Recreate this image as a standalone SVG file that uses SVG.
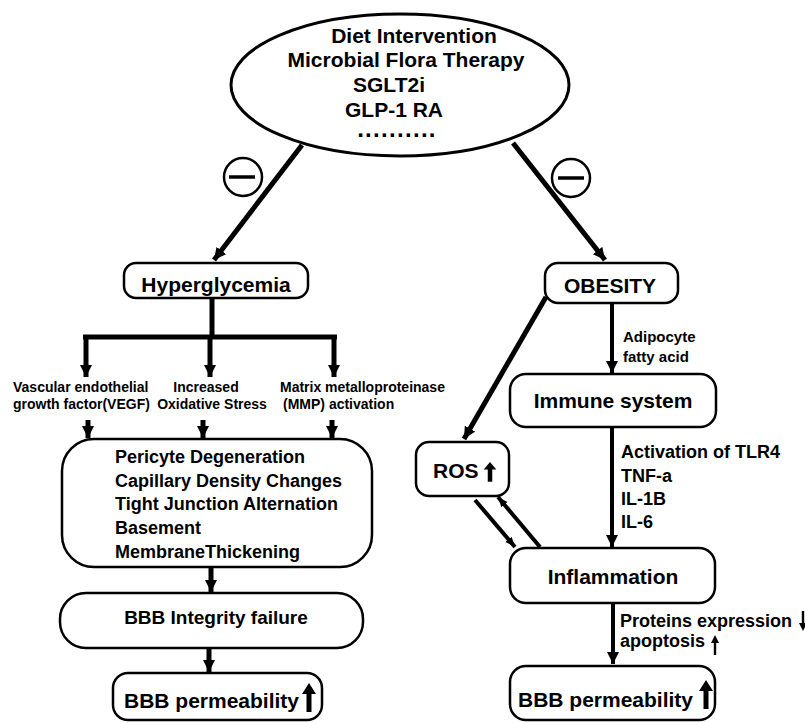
<svg xmlns="http://www.w3.org/2000/svg" width="805" height="723" viewBox="0 0 805 723">
<defs>
<style>
text{font-family:"Liberation Sans",Arial,sans-serif;font-weight:bold;fill:#000}
.box{fill:#fff;stroke:#000;stroke-width:2.5}
.c{stroke:#000;fill:none;stroke-linecap:butt}
.w5{stroke-width:5}
.w4{stroke-width:4}
.w3{stroke-width:3.5}
.mid{text-anchor:middle}
</style>
<marker id="ah" markerUnits="userSpaceOnUse" markerWidth="12" markerHeight="12" refX="10" refY="5" orient="auto" viewBox="0 0 10 10">
<path d="M0,0 L10,5 L0,10 Z" fill="#000"/>
</marker>
<marker id="ahs" markerUnits="userSpaceOnUse" markerWidth="10" markerHeight="10" refX="10" refY="5" orient="auto" viewBox="0 0 10 10">
<path d="M0,1 L10,5 L0,9 Z" fill="#000"/>
</marker>
<path id="up" d="M0,0 L7,11 L2.5,11 L2.5,29 L-2.5,29 L-2.5,11 L-7,11 Z" fill="#000"/>
<path id="thin" d="M0,0 L4,8 L1.2,8 L1.2,20 L-1.2,20 L-1.2,8 L-4,8 Z" fill="#000"/>
</defs>

<g id="connectors">
<line class="c w5" x1="302" y1="145" x2="214" y2="260" marker-end="url(#ah)"/>
<line class="c w5" x1="513" y1="143" x2="605" y2="260" marker-end="url(#ah)"/>
<line class="c w5" x1="212" y1="298" x2="212" y2="337"/>
<line class="c w5" x1="83" y1="337" x2="337" y2="337"/>
<line class="c w5" x1="86" y1="335" x2="86" y2="377" marker-end="url(#ah)"/>
<line class="c w5" x1="210" y1="335" x2="210" y2="377" marker-end="url(#ah)"/>
<line class="c w5" x1="334" y1="335" x2="334" y2="377" marker-end="url(#ah)"/>
<line class="c w5" x1="88" y1="420" x2="88" y2="438" marker-end="url(#ah)"/>
<line class="c w5" x1="203" y1="420" x2="203" y2="438" marker-end="url(#ah)"/>
<line class="c w5" x1="332" y1="420" x2="332" y2="438" marker-end="url(#ah)"/>
<line class="c w5" x1="211" y1="567" x2="211" y2="592" marker-end="url(#ah)"/>
<line class="c w5" x1="209" y1="648" x2="209" y2="672" marker-end="url(#ah)"/>
<line class="c w4" x1="612" y1="303" x2="612" y2="373" marker-end="url(#ah)"/>
<line class="c w5" x1="546" y1="297" x2="464" y2="439" marker-end="url(#ah)"/>
<line class="c w4" x1="612" y1="427" x2="612" y2="547" marker-end="url(#ah)"/>
<line class="c w4" x1="475" y1="500" x2="515" y2="547" marker-end="url(#ahs)"/>
<line class="c w4" x1="540" y1="547" x2="498" y2="497" marker-end="url(#ahs)"/>
<line class="c w4" x1="613" y1="603" x2="613" y2="664" marker-end="url(#ah)"/>
</g>

<g id="inhibit-left">
<circle cx="243" cy="177" r="19" fill="#fff" stroke="#000" stroke-width="2.5"/>
<line x1="229" y1="177" x2="255" y2="177" stroke="#000" stroke-width="3.5"/>
</g>
<g id="inhibit-right">
<circle cx="571" cy="178" r="19" fill="#fff" stroke="#000" stroke-width="2.5"/>
<line x1="558" y1="178" x2="584" y2="178" stroke="#000" stroke-width="3.5"/>
</g>

<g id="therapies">
<ellipse cx="400" cy="85" rx="169" ry="71" fill="#fff" stroke="#000" stroke-width="3"/>
<text x="414" y="43" font-size="21" class="mid">Diet Intervention</text>
<text x="406" y="67" font-size="21" class="mid">Microbial Flora Therapy</text>
<text x="389" y="92" font-size="21" class="mid">SGLT2i</text>
<text x="394" y="117" font-size="21" class="mid">GLP-1 RA</text>
<text x="397" y="137" font-size="24" class="mid" letter-spacing="1.3">..........</text>
</g>

<g id="hyperglycemia">
<rect class="box" x="124" y="263" width="184" height="35" rx="12"/>
<text x="216" y="292" font-size="21" class="mid">Hyperglycemia</text>
</g>

<g id="label-vegf">
<text x="13" y="392" font-size="14">Vascular endothelial</text>
<text x="13" y="409" font-size="14">growth factor(VEGF)</text>
</g>
<g id="label-oxidative">
<text x="206" y="392" font-size="14" class="mid">Increased</text>
<text x="212" y="409" font-size="14" class="mid">Oxidative Stress</text>
</g>
<g id="label-mmp">
<text x="280" y="392" font-size="14">Matrix metalloproteinase</text>
<text x="283" y="409" font-size="14">(MMP) activation</text>
</g>

<g id="changes">
<rect class="box" x="62" y="439" width="310" height="128" rx="32"/>
<text x="115" y="463" font-size="18">Pericyte Degeneration</text>
<text x="115" y="487" font-size="18">Capillary Density Changes</text>
<text x="115" y="510" font-size="18">Tight Junction Alternation</text>
<text x="115" y="534" font-size="18">Basement</text>
<text x="115" y="558" font-size="18">MembraneThickening</text>
</g>

<g id="bbb-integrity">
<rect class="box" x="60" y="593" width="303" height="55" rx="26"/>
<text x="216" y="624" font-size="19" class="mid">BBB Integrity failure</text>
</g>

<g id="bbb-perm-left">
<rect class="box" x="113" y="673" width="209" height="47" rx="15"/>
<text x="124" y="708" font-size="21">BBB permeability</text>
<use href="#up" x="309" y="683"/>
</g>

<g id="obesity">
<rect class="box" x="545" y="263" width="133" height="40" rx="13"/>
<text x="610" y="293" font-size="21" class="mid">OBESITY</text>
</g>

<g id="label-adipocyte">
<text x="623" y="342" font-size="15">Adipocyte</text>
<text x="623" y="362" font-size="15">fatty acid</text>
</g>

<g id="immune">
<rect class="box" x="510" y="374" width="206" height="53" rx="16"/>
<text x="613" y="408" font-size="21" class="mid">Immune system</text>
</g>

<g id="ros">
<rect class="box" x="416" y="442" width="93" height="54" rx="13"/>
<text x="433" y="478" font-size="21">ROS</text>
<g transform="translate(490,462) scale(0.9,0.68)"><use href="#up"/></g>
</g>

<g id="label-tlr4">
<text x="621" y="458" font-size="18">Activation of TLR4</text>
<text x="621" y="482" font-size="18">TNF-a</text>
<text x="621" y="505" font-size="18">IL-1B</text>
<text x="621" y="528" font-size="18">IL-6</text>
</g>

<g id="inflammation">
<rect class="box" x="510" y="548" width="205" height="55" rx="16"/>
<text x="613" y="584" font-size="21" class="mid">Inflammation</text>
</g>

<g id="label-proteins">
<text x="620" y="627" font-size="18">Proteins expression</text>
<g transform="translate(803,631) rotate(180)"><use href="#thin"/></g>
<text x="620" y="647" font-size="18">apoptosis</text>
<use href="#thin" x="715" y="635"/>
</g>

<g id="bbb-perm-right">
<rect class="box" x="510" y="666" width="205" height="54" rx="16"/>
<text x="518" y="707" font-size="21">BBB permeability</text>
<use href="#up" x="706" y="680"/>
</g>
</svg>
